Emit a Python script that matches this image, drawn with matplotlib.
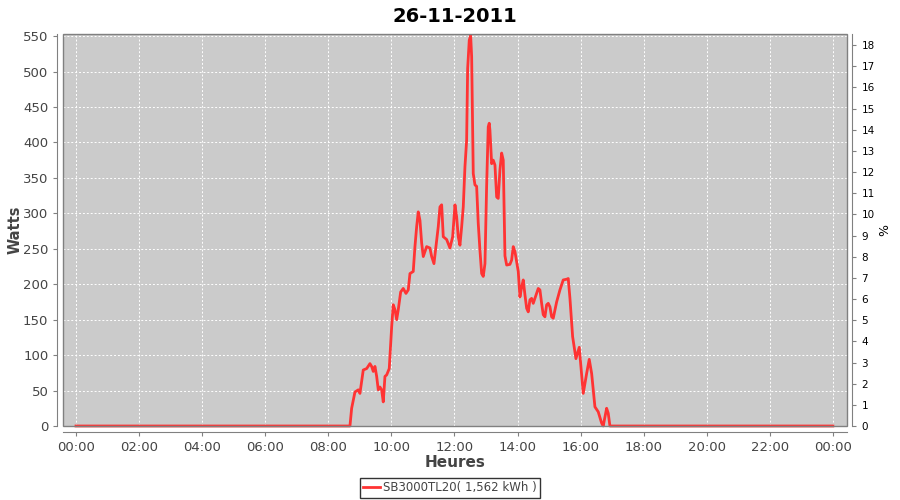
import matplotlib
matplotlib.use("Agg")
import matplotlib.pyplot as plt
from matplotlib.patches import Rectangle

# DATA ==================================================================================

# time of day in hours, power in watts
hours = [
    0.0, 8.687, 8.741, 8.846, 8.951, 9.004, 9.109, 9.217, 9.321, 9.375, 9.426,
    9.480, 9.534, 9.585, 9.638, 9.692, 9.743, 9.797, 9.851, 9.933, 10.010,
    10.060, 10.114, 10.168, 10.219, 10.295, 10.377, 10.463, 10.536, 10.590,
    10.694, 10.748, 10.802, 10.853, 10.907, 10.961, 11.012, 11.119, 11.224,
    11.278, 11.351, 11.414, 11.487, 11.541, 11.595, 11.646, 11.753, 11.858,
    11.944, 12.017, 12.070, 12.121, 12.175, 12.229, 12.280, 12.334, 12.387,
    12.419, 12.470, 12.514, 12.546, 12.578, 12.597, 12.651, 12.704, 12.755,
    12.809, 12.863, 12.914, 12.968, 13.021, 13.072, 13.104, 13.126, 13.180,
    13.231, 13.285, 13.339, 13.389, 13.443, 13.497, 13.548, 13.602, 13.656,
    13.760, 13.814, 13.865, 13.919, 14.024, 14.077, 14.131, 14.182, 14.236,
    14.290, 14.341, 14.394, 14.448, 14.499, 14.553, 14.607, 14.658, 14.711,
    14.765, 14.816, 14.870, 14.924, 14.975, 15.029, 15.082, 15.133, 15.241,
    15.346, 15.450, 15.558, 15.609, 15.663, 15.748, 15.853, 15.958, 16.085,
    16.192, 16.275, 16.351, 16.455, 16.560, 16.668, 16.718, 16.826, 16.877,
    16.931, 24.0,
]
watts = [
    0, 0, 25, 48, 51, 46, 79, 81, 88, 84, 77,
    84, 70, 51, 55, 51, 34, 70, 72, 81, 140,
    171, 164, 150, 164, 189, 194, 187, 192, 215,
    218, 253, 281, 302, 290, 258, 239, 253, 251,
    239, 229, 253, 281, 309, 312, 267, 263, 251,
    267, 312, 295, 267, 255, 281, 309, 366, 403,
    504, 544, 551, 521, 417, 356, 340, 338, 286,
    248, 215, 211, 229, 338, 422, 427, 417, 370,
    375, 368, 323, 321, 361, 385, 375, 240, 227,
    228, 234, 253, 246, 218, 182, 196, 206, 185,
    166, 161, 178, 180, 173, 180, 187, 194, 192,
    173, 157, 154, 171, 173, 168, 154, 152, 175,
    192, 206, 207, 208, 180, 126, 95, 111, 46,
    74, 94, 74, 27, 20, 4, 0, 25, 18,
    0, 0,
]

hour_ticks = list(range(0, 25, 2))
hour_labels = ["%02d:00" % (h % 24) for h in hour_ticks]
watt_ticks = list(range(0, 551, 50))
pct_ticks = list(range(0, 19))

title = "26-11-2011"
series_label = "SB3000TL20( 1,562 kWh )"

# PLOT ==================================================================================

plt.rcParams["font.family"] = "DejaVu Sans"

fig = plt.figure(figsize=(9, 5), dpi=100)
ax = fig.add_axes([0.07, 0.148, 0.871, 0.784])
ax.set_facecolor("#cbcbcb")

ax.plot(hours, watts, color="#ff3333", lw=2, label=series_label, clip_on=False, zorder=2)

ax.set_xlim(-0.412, 24.445)
ax.set_ylim(0, 552.9)
ax.set_xticks(hour_ticks)
ax.set_xticklabels(hour_labels)
ax.set_yticks(watt_ticks)
ax.grid(True, color="white", ls=(0, (2, 2)), lw=0.7)
ax.set_axisbelow(True)

grey = "#808080"
for side in ["top", "right"]:
    ax.spines[side].set_visible(False)
for side in ["left", "bottom"]:
    ax.spines[side].set_position(("outward", 4))
    ax.spines[side].set_color(grey)
ax.add_patch(Rectangle((0, 0), 1, 1, transform=ax.transAxes, fill=False,
                       edgecolor=grey, lw=1, zorder=3, clip_on=False))
ax.tick_params(colors=grey, labelcolor="#444444", labelsize=9.5, length=3)

ax.set_xlabel("Heures", fontsize=11, fontweight="bold", color="#444444", labelpad=1)
ax.set_ylabel("Watts", fontsize=10.5, fontweight="bold", color="#444444", labelpad=1)
ax.yaxis.set_label_coords(-0.051, 0.5)
ax.set_title(title, fontsize=14, fontweight="bold", pad=9)

ax2 = ax.twinx()
ax2.set_ylim(0, 18.52)
ax2.set_yticks(pct_ticks)
for side in ["top", "left", "bottom"]:
    ax2.spines[side].set_visible(False)
ax2.spines["right"].set_position(("outward", 4))
ax2.spines["right"].set_color(grey)
ax2.tick_params(colors=grey, labelcolor="black", labelsize=7.5, length=3)
ax2.set_ylabel("%", fontsize=9)
ax2.yaxis.set_label_coords(1.04, 0.5)

leg = fig.legend(loc="center", bbox_to_anchor=(0.5, 0.024), frameon=True,
                 fontsize=8.5, handlelength=1.4, handletextpad=0.3,
                 borderpad=0.3, fancybox=False)
leg.get_frame().set_edgecolor("black")
leg.get_frame().set_linewidth(1)
for t in leg.get_texts():
    t.set_color("#444444")

fig.savefig("out.png", dpi=100)
